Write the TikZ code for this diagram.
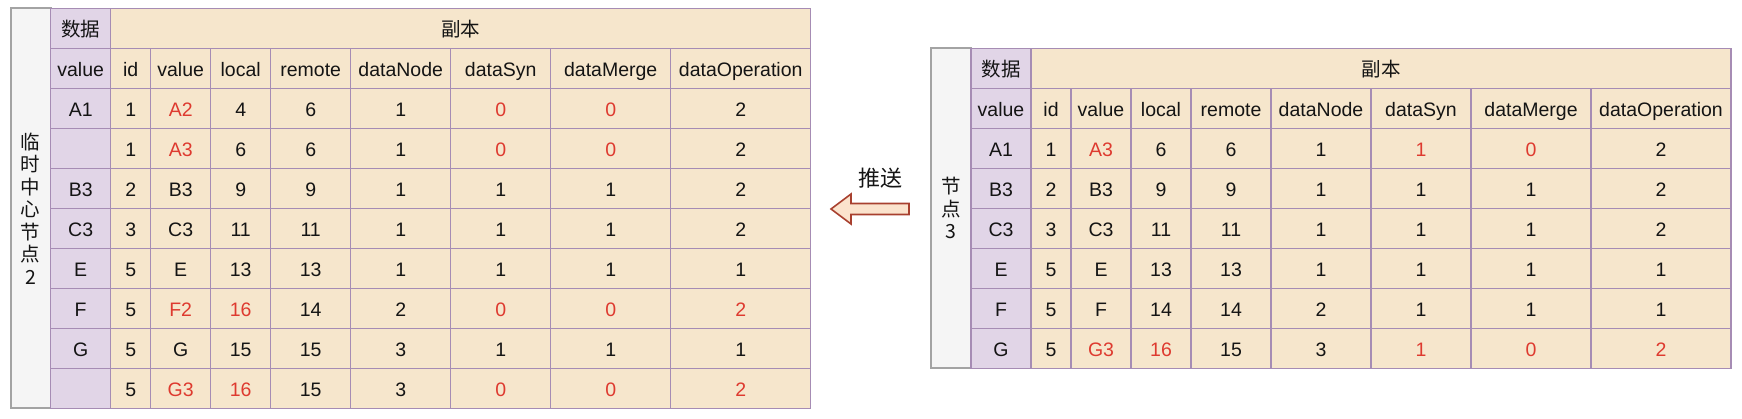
\documentclass[tikz,border=0pt]{standalone}
\usepackage{fontspec}
\setmainfont{Liberation Sans}
\newfontfamily\cjk{Noto Sans CJK SC}
\definecolor{purplefill}{HTML}{E1D5E7}
\definecolor{beigefill}{HTML}{F6E6CC}
\definecolor{cellline}{HTML}{A68CB4}
\definecolor{sidefill}{HTML}{F5F5F5}
\definecolor{sideline}{HTML}{A3A3A3}
\definecolor{redtxt}{HTML}{DE3A2F}
\definecolor{txt}{HTML}{141414}
\definecolor{arrowfill}{HTML}{FBE3CD}
\definecolor{arrowline}{HTML}{A8402F}
\newcommand\redt[1]{\textcolor{redtxt}{#1}}
\def\colx{{40,100,140,200,260,340,440,540,660,800}}
\begin{document}
\begin{tikzpicture}[x=1pt,y=-1pt,
  cellbase/.style={draw=cellline, line width=1.3pt, inner sep=0pt, outer sep=0pt,
    anchor=north west, text height=17pt, text depth=0pt,
    font=\fontsize{19.5}{23}\selectfont, text=txt},
  sidecell/.style={draw=sideline, fill=sidefill, line width=2pt, inner sep=0pt,
    outer sep=0pt, anchor=north west, align=center, minimum width=40,
    font={\fontsize{19.5}{22.5}\selectfont\cjk}, text=txt},
  pusharrow/.style={draw=arrowline, fill=arrowfill, line width=1.6pt, line join=miter},
  pushtext/.style={font={\fontsize{22}{26}\selectfont\cjk}, text=txt}
]
\useasboundingbox (0,0) rectangle (1742,418);

% ---------------- left table: 临时中心节点2 ----------------
\node[sidecell, minimum height=400] (L-side) at (10.7,8.3)
  {临\\时\\中\\心\\节\\点\\2};
\node[cellbase, fill=purplefill, minimum width=60, minimum height=40] (L-0-0)
  at (50.7,8.3) {\cjk 数据};
\node[cellbase, fill=beigefill, minimum width=700, minimum height=40] (L-0-1)
  at (110.7,8.3) {\cjk 副本};
\foreach \rowdata [count=\r from 1] in {
  {value,id,value,local,remote,dataNode,dataSyn,dataMerge,dataOperation},
  {A1,1,\redt{A2},4,6,1,\redt{0},\redt{0},2},
  {{},1,\redt{A3},6,6,1,\redt{0},\redt{0},2},
  {B3,2,B3,9,9,1,1,1,2},
  {C3,3,C3,11,11,1,1,1,2},
  {E,5,E,13,13,1,1,1,1},
  {F,5,\redt{F2},\redt{16},14,2,\redt{0},\redt{0},\redt{2}},
  {G,5,G,15,15,3,1,1,1},
  {{},5,\redt{G3},\redt{16},15,3,\redt{0},\redt{0},\redt{2}}}
{
  \foreach \t [count=\c from 0] in \rowdata {
    \pgfmathsetmacro\xa{\colx[\c]}
    \pgfmathsetmacro\xb{\colx[\c+1]}
    \ifnum\c=0 \def\cf{purplefill}\else\def\cf{beigefill}\fi
    \node[cellbase, fill=\cf, minimum width=\xb-\xa, minimum height=40]
      (L-\r-\c) at (10.7+\xa, 8.3+40*\r) {\t};
  }
}

% ---------------- right table: 节点3 ----------------
\node[sidecell, minimum height=320] (R-side) at (931,48.3)
  {节\\点\\3};
\node[cellbase, fill=purplefill, minimum width=60, minimum height=40] (R-0-0)
  at (971,48.3) {\cjk 数据};
\node[cellbase, fill=beigefill, minimum width=700, minimum height=40] (R-0-1)
  at (1031,48.3) {\cjk 副本};
\foreach \rowdata [count=\r from 1] in {
  {value,id,value,local,remote,dataNode,dataSyn,dataMerge,dataOperation},
  {A1,1,\redt{A3},6,6,1,\redt{1},\redt{0},2},
  {B3,2,B3,9,9,1,1,1,2},
  {C3,3,C3,11,11,1,1,1,2},
  {E,5,E,13,13,1,1,1,1},
  {F,5,F,14,14,2,1,1,1},
  {G,5,\redt{G3},\redt{16},15,3,\redt{1},\redt{0},\redt{2}}}
{
  \foreach \t [count=\c from 0] in \rowdata {
    \pgfmathsetmacro\xa{\colx[\c]}
    \pgfmathsetmacro\xb{\colx[\c+1]}
    \ifnum\c=0 \def\cf{purplefill}\else\def\cf{beigefill}\fi
    \node[cellbase, fill=\cf, minimum width=\xb-\xa, minimum height=40]
      (R-\r-\c) at (931+\xa, 48.3+40*\r) {\t};
  }
}

% ---------------- push arrow ----------------
\coordinate (pushtip) at (831,209);
\draw[pusharrow] (pushtip) -- ++(20,-15) -- ++(0,9.5) -- ++(58,0) -- ++(0,11)
  -- ++(-58,0) -- ++(0,9.5) -- cycle;
\node[pushtext] (pushlabel) at (880.5,178) {推送};
\end{tikzpicture}
\end{document}
